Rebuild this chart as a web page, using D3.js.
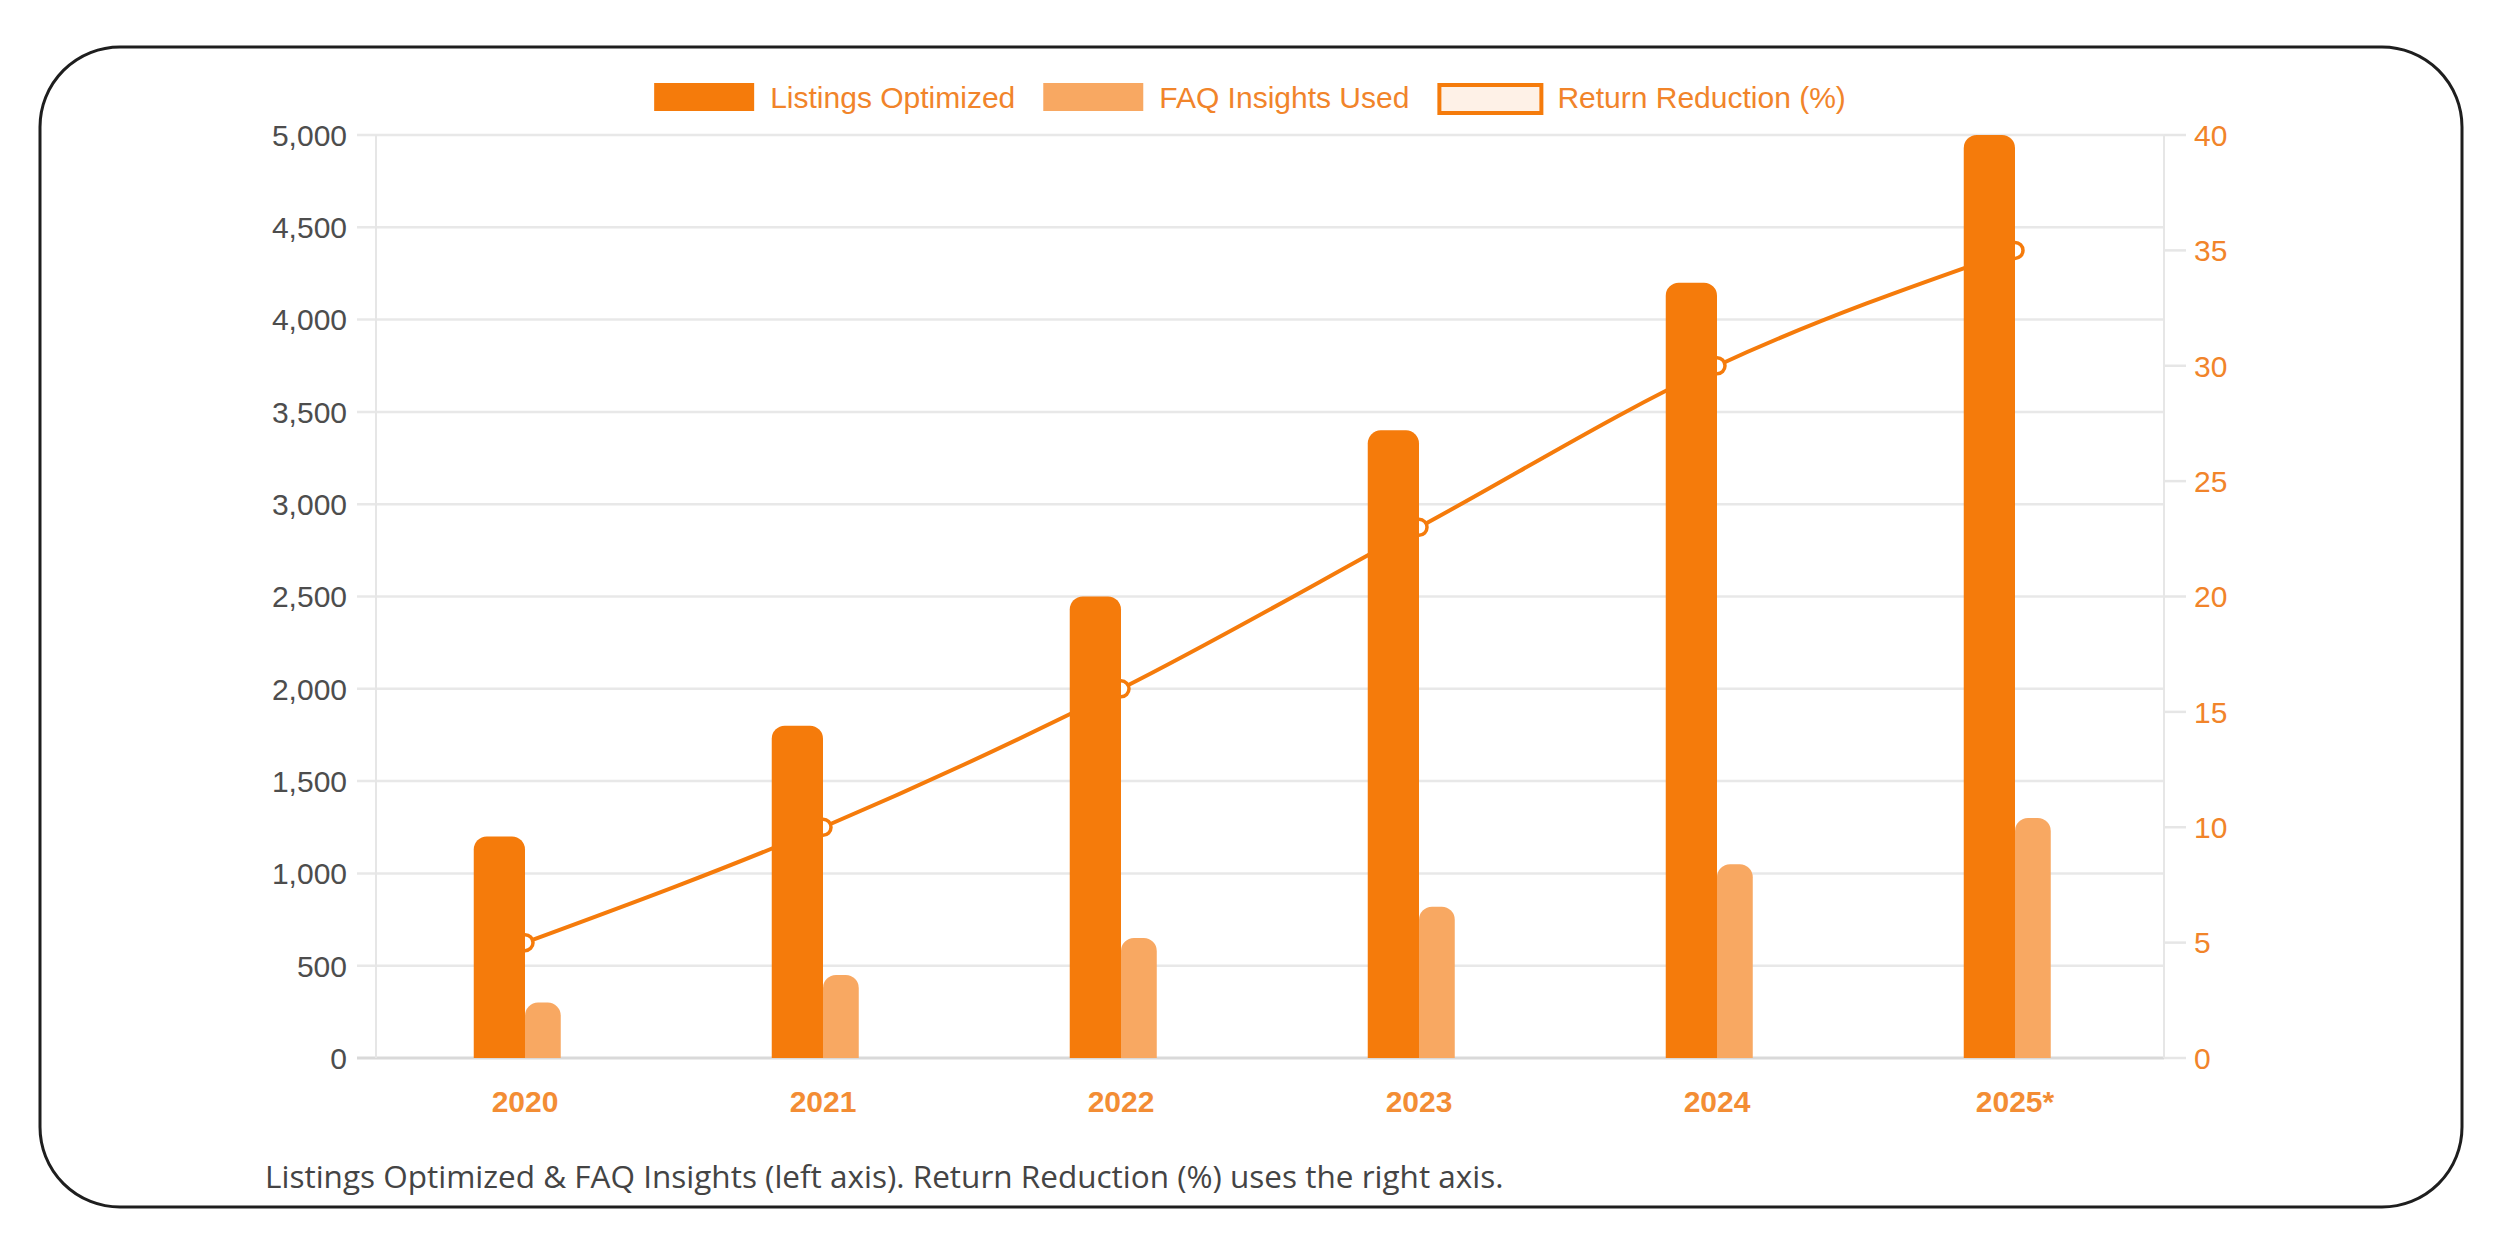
<!DOCTYPE html>
<html>
<head>
<meta charset="utf-8">
<script src="https://cdn.jsdelivr.net/npm/d3@7"></script>
<style>
  body { margin: 0; background: #fff; }
  svg { display: block; }
</style>
</head>
<body>
<svg id="chart" width="2497" height="1240"></svg>
<script>
// data
var years = ["2020", "2021", "2022", "2023", "2024", "2025*"];
var listingsOptimized = [1200, 1800, 2500, 3400, 4200, 5000];
var faqInsightsUsed = [300, 450, 650, 820, 1050, 1300];
var returnReduction = [5, 10, 16, 23, 30, 35];
var leftTicks = [0, 500, 1000, 1500, 2000, 2500, 3000, 3500, 4000, 4500, 5000];
var rightTicks = [0, 5, 10, 15, 20, 25, 30, 35, 40];
var legendLabels = ["Listings Optimized", "FAQ Insights Used", "Return Reduction (%)"];
var captionText = "Listings Optimized & FAQ Insights (left axis). Return Reduction (%) uses the right axis.";

var ORANGE = "#f57b0b";
var LIGHT = "#f8a862";
var TEXT_ORANGE = "#f1842a";
var FONT = "'Liberation Sans', Arial, Helvetica, sans-serif";

var svg = d3.select("#chart");
var plot = { left: 376, right: 2164, top: 135, bottom: 1058 };

// card frame
svg.append("rect")
  .attr("x", 40).attr("y", 47)
  .attr("width", 2422).attr("height", 1160)
  .attr("rx", 80).attr("ry", 80)
  .attr("fill", "#fff")
  .attr("stroke", "#1e1e1e")
  .attr("stroke-width", 3);

var x = d3.scaleBand().domain(years).range([plot.left, plot.right]);
var yLeft = d3.scaleLinear().domain([0, 5000]).range([plot.bottom, plot.top]);
var yRight = d3.scaleLinear().domain([0, 40]).range([plot.bottom, plot.top]);
var center = function (d) { return x(d) + x.bandwidth() / 2; };

// horizontal grid + left tick marks
svg.append("g").selectAll("line")
  .data(leftTicks)
  .enter().append("line")
  .attr("x1", plot.left - 19).attr("x2", plot.right)
  .attr("y1", function (d) { return yLeft(d); })
  .attr("y2", function (d) { return yLeft(d); })
  .attr("stroke", function (d) { return d === 0 ? "#d9d9d9" : "#e8e8e8"; })
  .attr("stroke-width", function (d) { return d === 0 ? 3 : 2.5; });

// axis borders
svg.append("line")
  .attr("x1", plot.left).attr("x2", plot.left)
  .attr("y1", plot.top).attr("y2", plot.bottom)
  .attr("stroke", "#e6e6e6").attr("stroke-width", 2);
svg.append("line")
  .attr("x1", plot.right).attr("x2", plot.right)
  .attr("y1", plot.top).attr("y2", plot.bottom)
  .attr("stroke", "#e6e6e6").attr("stroke-width", 2);

// right tick marks
svg.append("g").selectAll("line")
  .data(rightTicks)
  .enter().append("line")
  .attr("x1", plot.right).attr("x2", plot.right + 22)
  .attr("y1", function (d) { return yRight(d); })
  .attr("y2", function (d) { return yRight(d); })
  .attr("stroke", "#e6e6e6").attr("stroke-width", 2.5);

// left tick labels
svg.append("g").selectAll("text")
  .data(leftTicks)
  .enter().append("text")
  .attr("x", plot.left - 29)
  .attr("y", function (d) { return yLeft(d); })
  .attr("dy", "0.36em")
  .attr("text-anchor", "end")
  .attr("font-family", FONT).attr("font-size", 30)
  .attr("fill", "#4d4d4d")
  .text(d3.format(","));

// right tick labels
svg.append("g").selectAll("text")
  .data(rightTicks)
  .enter().append("text")
  .attr("x", plot.right + 30)
  .attr("y", function (d) { return yRight(d); })
  .attr("dy", "0.36em")
  .attr("font-family", FONT).attr("font-size", 30)
  .attr("fill", TEXT_ORANGE)
  .text(function (d) { return d; });

// x labels
svg.append("g").selectAll("text")
  .data(years)
  .enter().append("text")
  .attr("x", center)
  .attr("y", 1101)
  .attr("dy", "0.36em")
  .attr("text-anchor", "middle")
  .attr("font-family", FONT).attr("font-size", 30).attr("font-weight", "bold")
  .attr("fill", "#f38d34")
  .text(function (d) { return d; });

// return reduction line (drawn under the bars)
var line = d3.line()
  .x(function (d, i) { return center(years[i]); })
  .y(function (d) { return yRight(d); })
  .curve(d3.curveMonotoneX);

svg.append("path")
  .datum(returnReduction)
  .attr("d", line)
  .attr("fill", "none")
  .attr("stroke", ORANGE)
  .attr("stroke-width", 4);

svg.append("g").selectAll("circle")
  .data(returnReduction)
  .enter().append("circle")
  .attr("cx", function (d, i) { return center(years[i]); })
  .attr("cy", function (d) { return yRight(d); })
  .attr("r", 8)
  .attr("fill", "#fff")
  .attr("stroke", ORANGE)
  .attr("stroke-width", 3.5);

function topRounded(x0, y0, w, h, r) {
  r = Math.min(r, w / 2, h);
  return "M" + x0 + "," + (y0 + h) +
    "V" + (y0 + r) +
    "A" + r + "," + r + " 0 0 1 " + (x0 + r) + "," + y0 +
    "H" + (x0 + w - r) +
    "A" + r + "," + r + " 0 0 1 " + (x0 + w) + "," + (y0 + r) +
    "V" + (y0 + h) + "Z";
}

var darkW = x.bandwidth() * 0.172;
var lightW = x.bandwidth() * 0.12;

svg.append("g").selectAll("path")
  .data(listingsOptimized)
  .enter().append("path")
  .attr("d", function (d, i) {
    var c = center(years[i]);
    return topRounded(c - darkW, yLeft(d), darkW, yLeft(0) - yLeft(d), 13);
  })
  .attr("fill", ORANGE);

svg.append("g").selectAll("path")
  .data(faqInsightsUsed)
  .enter().append("path")
  .attr("d", function (d, i) {
    var c = center(years[i]);
    return topRounded(c, yLeft(d), lightW, yLeft(0) - yLeft(d), 13);
  })
  .attr("fill", LIGHT);

// legend
var legend = svg.append("g");
var swatch = [
  { fill: ORANGE, stroke: "none" },
  { fill: LIGHT, stroke: "none" },
  { fill: "#fef1e7", stroke: ORANGE }
];
var boxW = 100, boxH = 28, textGap = 16, itemGap = 28;
var cursor = 0;
legendLabels.forEach(function (label, i) {
  var g = legend.append("g").attr("transform", "translate(" + cursor + ",0)");
  var s = swatch[i];
  if (s.stroke === "none") {
    g.append("rect").attr("x", 0).attr("y", -boxH / 2)
      .attr("width", boxW).attr("height", boxH).attr("fill", s.fill);
  } else {
    g.append("rect").attr("x", 2).attr("y", -boxH / 2 + 2)
      .attr("width", boxW + 2).attr("height", boxH - 0)
      .attr("fill", s.fill).attr("stroke", s.stroke).attr("stroke-width", 4);
  }
  var t = g.append("text")
    .attr("x", boxW + textGap + (i === 2 ? 4 : 0))
    .attr("y", 0).attr("dy", "0.36em")
    .attr("font-family", FONT).attr("font-size", 30)
    .attr("fill", TEXT_ORANGE)
    .text(label);
  cursor += boxW + textGap + t.node().getComputedTextLength() + itemGap + (i === 2 ? 4 : 0);
});
var legendW = cursor - itemGap;
legend.attr("transform", "translate(" + (1250 - legendW / 2) + ",97)");

// caption
svg.append("text")
  .attr("x", 265).attr("y", 1177)
  .attr("dy", "0.36em")
  .attr("font-family", "'Open Sans', 'Noto Sans', sans-serif")
  .attr("font-size", 31.5)
  .attr("fill", "#444")
  .text(captionText);
</script>
</body>
</html>
